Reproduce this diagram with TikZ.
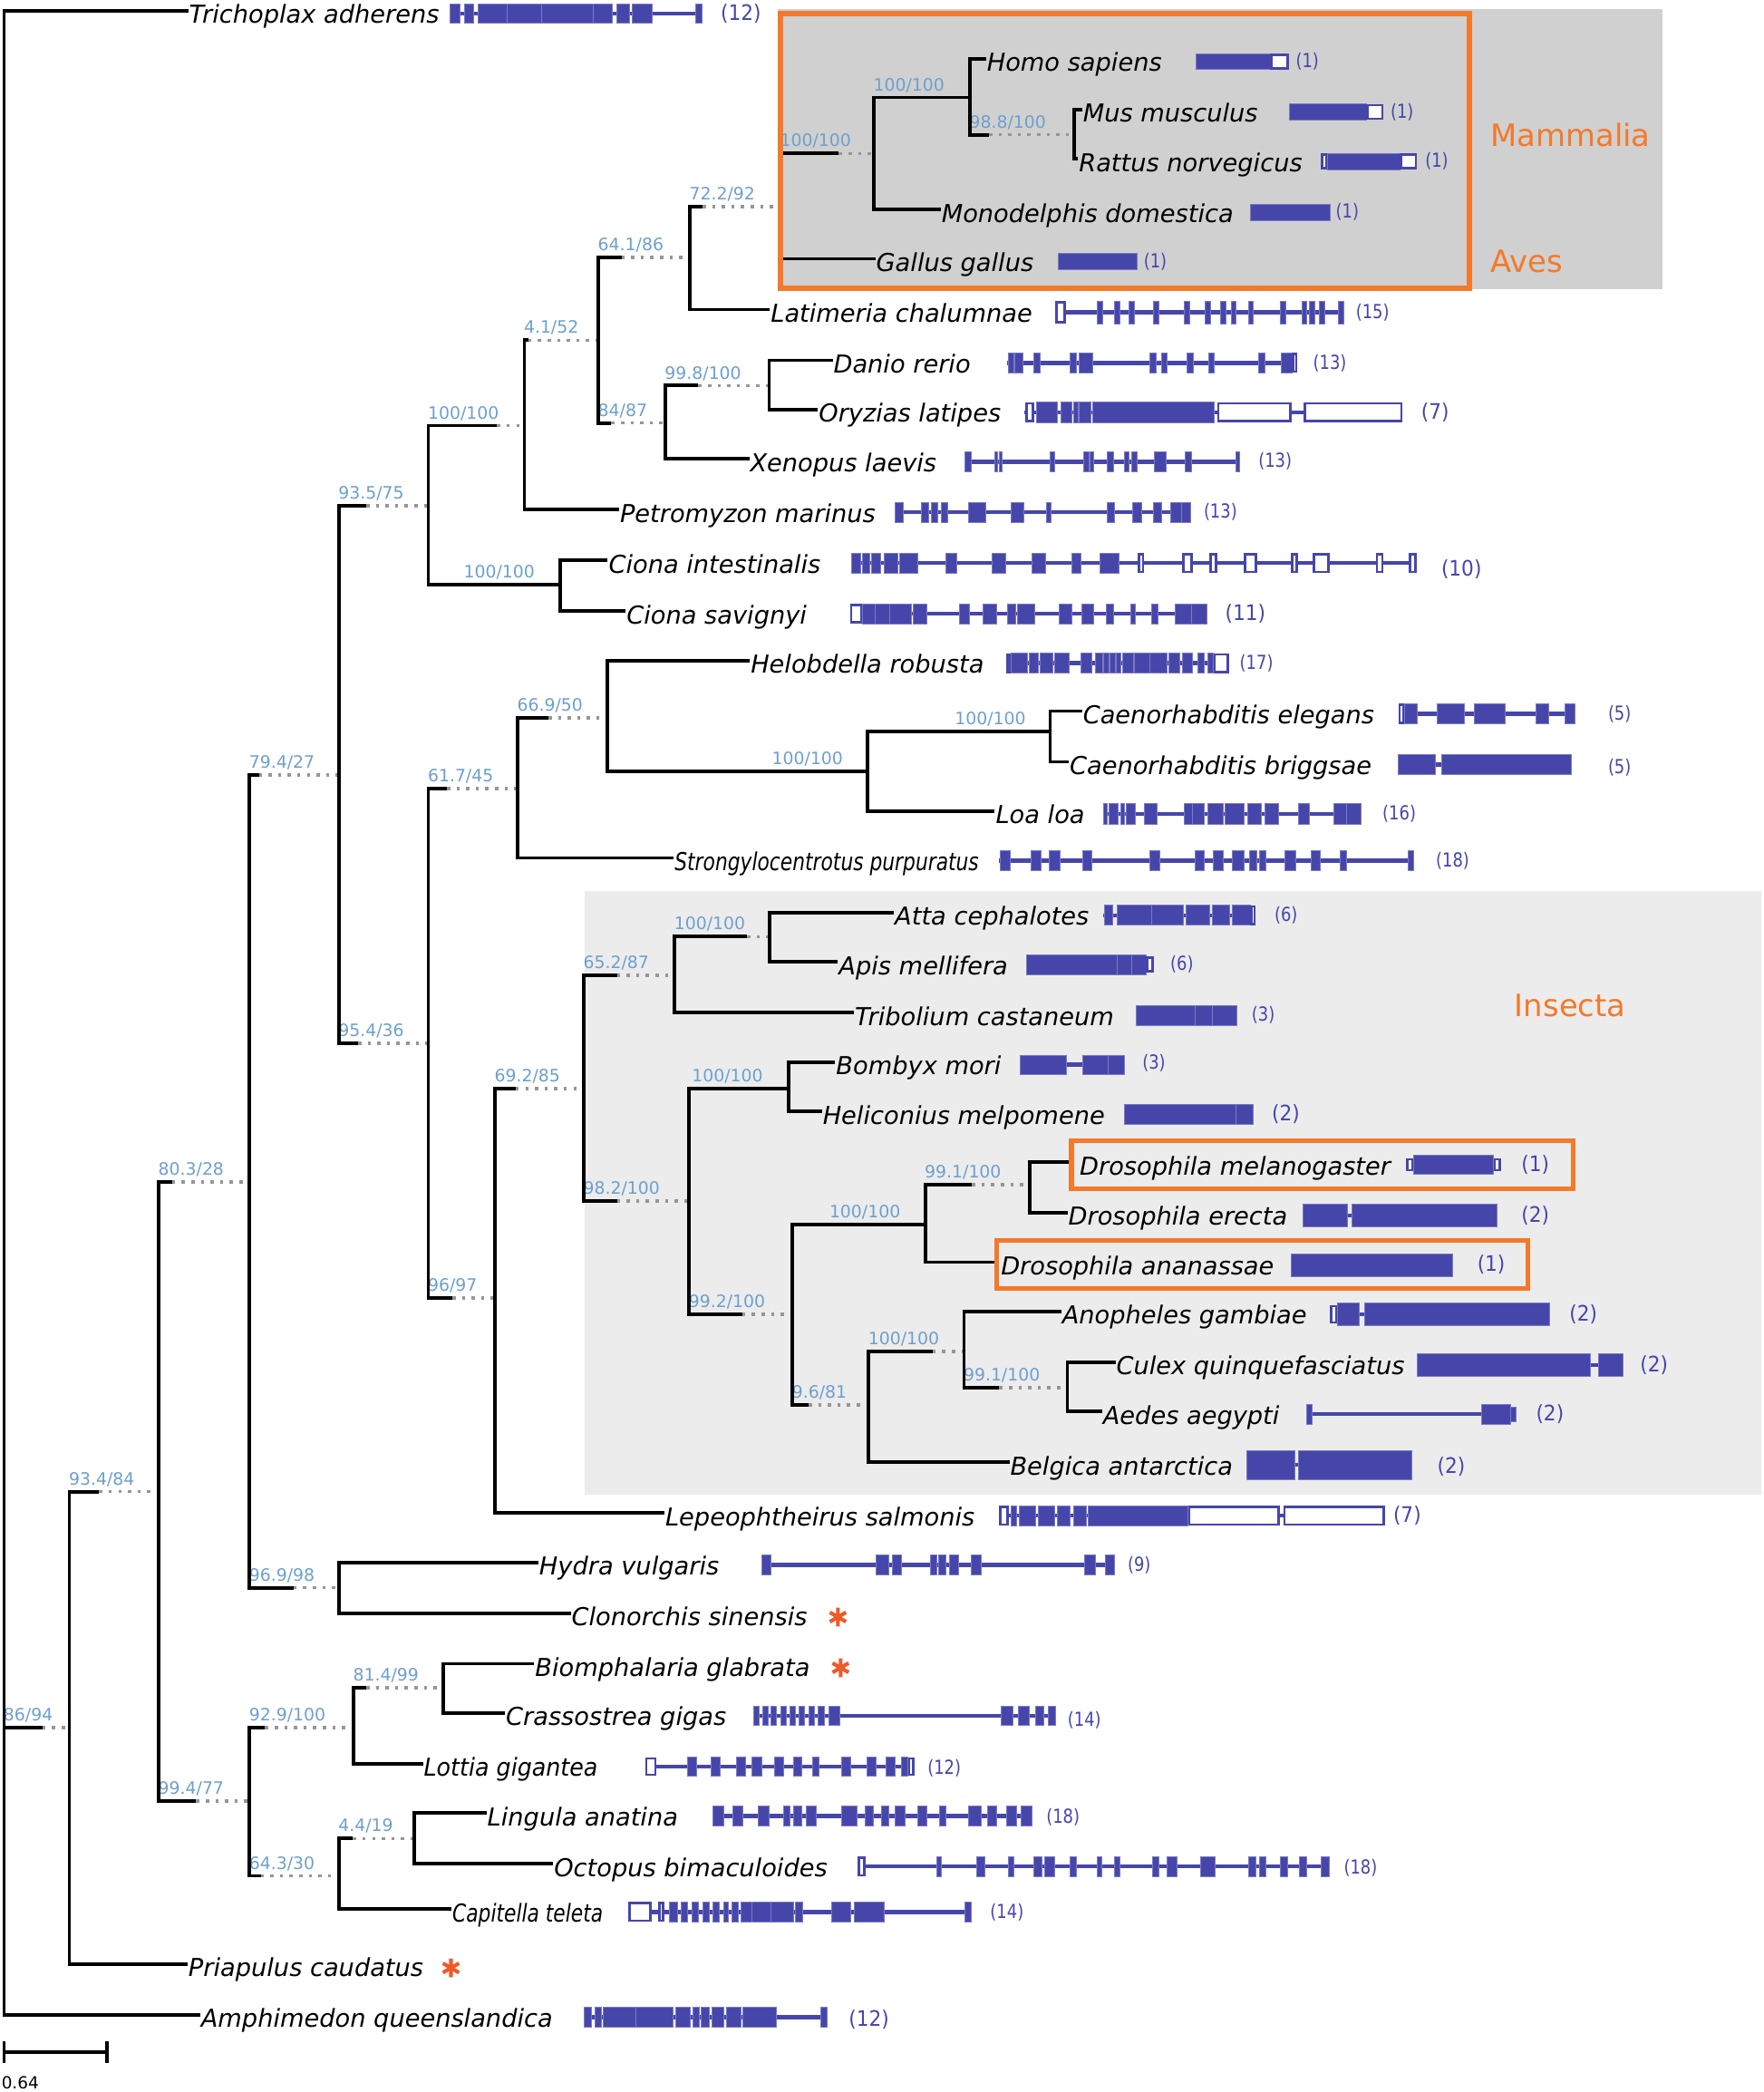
\documentclass[tikz,border=0pt]{standalone}
\usepackage{fontspec}
\usepackage{graphicx}
\setmainfont{DejaVu Sans}
\definecolor{genec}{RGB}{70,70,170}
\definecolor{supc}{RGB}{110,160,205}
\definecolor{orng}{RGB}{244,121,42}
\definecolor{dotc}{RGB}{150,150,150}
\definecolor{mgray}{RGB}{208,208,208}
\definecolor{igray}{RGB}{236,236,236}
\definecolor{astc}{RGB}{238,90,40}
\tikzset{
  hl/.style={line width=2.6pt,black,line cap=butt},
  vl/.style={line width=2.6pt,black,line cap=rect},
  dotb/.style={line width=2.4pt,dotc,dash pattern=on 2.4pt off 4.8pt},
  sup/.style={font=\fontsize{12.8}{14}\selectfont,text=supc,inner sep=0pt},
  tax/.style={font=\fontsize{18.5}{20}\selectfont\itshape,anchor=base west,inner sep=0pt},
  cntS/.style={font=\fontsize{14.5}{16}\selectfont,text=genec,anchor=west,inner sep=0pt},
  cntL/.style={font=\fontsize{16}{18}\selectfont,text=genec,anchor=west,inner sep=0pt},
  grp/.style={font=\fontsize{23}{25}\selectfont,text=orng,anchor=west,inner sep=0pt},
  intr/.style={line width=3pt,genec,line cap=butt},
  exf/.style={fill=genec,draw=genec!72!white,line width=0.5pt},
  exo/.style={fill=white,draw=genec,line width=1.8pt},
  obox/.style={draw=orng,line width=4pt},
}
% taxon: name, row, parent x, text x, text
\newcommand\taxon[5]{\draw[hl] (#3,#2-2) -- (#4,#2-2); \node[tax] (#1) at (#4+0.5,#2+7.5) {#5};}
% internal branch: parent x, solid end, child x, y
\newcommand\ib[4]{\draw[dotb] (#2,#4) -- (#3,#4); \draw[hl] (#1,#4) -- (#2,#4);}
\newcommand\labw[3]{\node[sup,anchor=base west] at (#1-0.5,#2-5) {#3};}
\newcommand\labe[3]{\node[sup,anchor=base east] at (#1,#2-5) {#3};}
\newcommand\gIn[3]{\draw[intr] (#2,#1) -- (#3,#1);}
\newcommand\gEx[3]{\foreach \a/\b in {#3}{\filldraw[exf] (\a,#1-#2) rectangle (\b,#1+#2);}}
\newcommand\gOp[3]{\foreach \a/\b in {#3}{\filldraw[exo] (\a+0.9,#1-#2+0.9) rectangle (\b-0.9,#1+#2-0.9);}}
\newcommand\cntS[3]{\node[cntS] at (#1,#2) {\scalebox{0.84}[1]{#3}};}
\newcommand\cntL[3]{\node[cntL] at (#1,#2) {\scalebox{0.92}[1]{#3}};}
\newcommand\astmark[2]{\draw[astc,line width=2.8pt] (#1,#2-7)--(#1,#2+7) (#1-6,#2-3.5)--(#1+6,#2+3.5) (#1-6,#2+3.5)--(#1+6,#2-3.5);}
\begin{document}
\begin{tikzpicture}[x=1pt,y=-1pt]
\useasboundingbox (0,0) rectangle (1322,1568);
\fill[white] (0,0) rectangle (1322,1568);
% backgrounds
\fill[mgray] (583,7) rectangle (1246,217);
\fill[igray] (438,668) rectangle (1320,1120);
% dotted + solid internal branches
\ib{3}{31.8}{52}{1295}
\ib{52}{74.3}{119}{1118}
\ib{119}{129}{187}{886}
\ib{119}{147}{187}{1350}
\ib{187}{194}{254}{581}
\ib{187}{220}{254}{1190}
\ib{254}{274.5}{321}{379}
\ib{254}{268.4}{321}{782}
\ib{321}{372.5}{393}{319}
\ib{321}{420}{420}{438}
\ib{393}{396}{448.5}{255}
\ib{448.5}{465.8}{517}{193}
\ib{448.5}{458.2}{498.6}{317}
\ib{517}{526.5}{585}{155}
\ib{585}{628.7}{655}{115}
\ib{655}{727}{727}{73}
\ib{727}{741.2}{805}{101}
\ib{498.6}{523.4}{576.5}{289}
\ib{321}{335}{388}{591}
\ib{388}{411}{455}{538}
\ib{455}{650}{650}{578}
\ib{650}{787}{787}{548}
\ib{321}{339}{371}{973}
\ib{371}{386.5}{437.6}{816}
\ib{437.6}{462.4}{505.7}{731}
\ib{505.7}{559.8}{577}{702}
\ib{437.6}{462.4}{516.5}{900}
\ib{516.5}{591}{591}{816}
\ib{516.5}{556.3}{594}{985}
\ib{594}{693.4}{693.4}{918}
\ib{693.4}{728.4}{772}{888}
\ib{594}{606}{651}{1053}
\ib{651}{699}{722.5}{1013}
\ib{722.5}{749}{800}{1040}
\ib{187}{198.7}{265}{1295}
\ib{265}{274.5}{332}{1265}
\ib{187}{195.4}{254}{1406}
\ib{254}{264.5}{310.7}{1378}
% support labels
\labw{3}{1295}{86/94}
\labw{52}{1118}{93.4/84}
\labw{119}{886}{80.3/28}
\labw{119}{1350}{99.4/77}
\labw{187}{581}{79.4/27}
\labw{187}{1190}{96.9/98}
\labw{254}{379}{93.5/75}
\labw{254}{782}{95.4/36}
\labw{321}{319}{100/100}
\labe{401}{438}{100/100}
\labw{393}{255}{4.1/52}
\labw{448.5}{193}{64.1/86}
\labw{448.5}{317}{84/87}
\labw{517}{155}{72.2/92}
\labw{585}{115}{100/100}
\labe{708}{73}{100/100}
\labw{727}{101}{98.8/100}
\labw{498.6}{289}{99.8/100}
\labw{321}{591}{61.7/45}
\labw{388}{538}{66.9/50}
\labe{632}{578}{100/100}
\labe{769}{548}{100/100}
\labw{321}{973}{96/97}
\labw{371}{816}{69.2/85}
\labw{437.6}{731}{65.2/87}
\labw{505.7}{702}{100/100}
\labw{437.6}{900}{98.2/100}
\labe{572}{816}{100/100}
\labw{516.5}{985}{99.2/100}
\labe{675}{918}{100/100}
\labw{693.4}{888}{99.1/100}
\labw{594}{1053}{9.6/81}
\labw{651}{1013}{100/100}
\labw{722.5}{1040}{99.1/100}
\labw{187}{1295}{92.9/100}
\labw{265}{1265}{81.4/99}
\labw{187}{1406}{64.3/30}
\labw{254}{1378}{4.4/19}
% verticals
\draw[vl] (3,8) -- (3,1510);
\draw[vl] (52,1118) -- (52,1472);
\draw[vl] (119,886) -- (119,1350);
\draw[vl] (187,581) -- (187,1190);
\draw[vl] (254,379) -- (254,782);
\draw[vl] (321,319) -- (321,438);
\draw[vl] (393,255) -- (393,382);
\draw[vl] (448.5,193) -- (448.5,317);
\draw[vl] (517,155) -- (517,232);
\draw[vl] (585,115) -- (585,194);
\draw[vl] (655,73) -- (655,157);
\draw[vl] (727,44) -- (727,101);
\draw[vl] (805,82) -- (805,119);
\draw[vl] (498.6,289) -- (498.6,344);
\draw[vl] (576.5,270) -- (576.5,307);
\draw[vl] (420,420) -- (420,458);
\draw[vl] (321,591) -- (321,973);
\draw[vl] (388,538) -- (388,643);
\draw[vl] (455,495) -- (455,578);
\draw[vl] (650,548) -- (650,608);
\draw[vl] (787,533) -- (787,571);
\draw[vl] (371,816) -- (371,1134);
\draw[vl] (437.6,731) -- (437.6,900);
\draw[vl] (505.7,702) -- (505.7,759);
\draw[vl] (577,684) -- (577,721);
\draw[vl] (516.5,816) -- (516.5,985);
\draw[vl] (591,796) -- (591,833);
\draw[vl] (594,918) -- (594,1053);
\draw[vl] (693.4,888) -- (693.4,946);
\draw[vl] (772,871) -- (772,909);
\draw[vl] (651,1013) -- (651,1096);
\draw[vl] (722.5,983) -- (722.5,1040);
\draw[vl] (800,1021) -- (800,1058);
\draw[vl] (254,1171) -- (254,1209);
\draw[vl] (187,1295) -- (187,1406);
\draw[vl] (265,1265) -- (265,1322);
\draw[vl] (332,1247) -- (332,1284);
\draw[vl] (254,1378) -- (254,1431);
\draw[vl] (310.7,1359) -- (310.7,1397);
% taxa
\taxon{tri}{10}{3}{141}{Trichoplax adherens}
\taxon{homo}{46}{727}{739}{Homo sapiens}
\taxon{mus}{84}{805}{811}{Mus musculus}
\taxon{rat}{121}{805}{808}{Rattus norvegicus}
\taxon{mono}{159}{655}{705}{Monodelphis domestica}
\taxon{gal}{196}{585}{656}{Gallus gallus}
\taxon{lat}{234}{517}{577}{Latimeria chalumnae}
\taxon{dan}{272}{576.5}{624}{Danio rerio}
\taxon{ory}{309}{576.5}{613}{Oryzias latipes}
\taxon{xen}{346}{498.6}{561.5}{Xenopus laevis}
\taxon{pet}{384}{393}{464}{Petromyzon marinus}
\taxon{cin}{422}{420}{455.5}{Ciona intestinalis}
\taxon{csa}{460}{420}{469}{Ciona savignyi}
\taxon{hel}{497}{455}{562}{Helobdella robusta}
\taxon{cel}{535}{787}{811}{Caenorhabditis elegans}
\taxon{cbr}{573}{787}{801}{Caenorhabditis briggsae}
\taxon{loa}{610}{650}{745.6}{Loa loa}
\taxon{str}{645}{388}{505}{\scalebox{0.8}[1]{Strongylocentrotus purpuratus}}
\taxon{atta}{686}{577}{670}{Atta cephalotes}
\taxon{apis}{723}{577}{628}{Apis mellifera}
\taxon{trib}{761}{505.7}{640}{Tribolium castaneum}
\taxon{bom}{798}{591}{626}{Bombyx mori}
\taxon{hmel}{835}{591}{616}{Heliconius melpomene}
\draw[hl] (772,871) -- (801,871); \node[tax] (dmel) at (809,880.5) {Drosophila melanogaster};
\taxon{dere}{911}{772}{800}{Drosophila erecta}
\draw[hl] (693.4,946) -- (746,946); \node[tax] (dana) at (750,955.5) {Drosophila ananassae};
\taxon{ano}{985}{722.5}{795.4}{Anopheles gambiae}
\taxon{cul}{1023}{800}{836}{Culex quinquefasciatus}
\taxon{aed}{1060}{800}{826}{Aedes aegypti}
\taxon{bel}{1098}{651}{756.5}{Belgica antarctica}
\taxon{lep}{1136}{371}{498}{Lepeophtheirus salmonis}
\taxon{hyd}{1173}{254}{403.5}{Hydra vulgaris}
\taxon{clo}{1211}{254}{427.7}{Clonorchis sinensis}
\taxon{bio}{1249}{332}{400.4}{Biomphalaria glabrata}
\taxon{cra}{1286}{332}{378.5}{Crassostrea gigas}
\taxon{lot}{1324}{265}{317}{\scalebox{0.93}[1]{Lottia gigantea}}
\taxon{lin}{1361}{310.7}{364.6}{Lingula anatina}
\taxon{oct}{1399}{310.7}{414.6}{Octopus bimaculoides}
\taxon{cap}{1433}{254}{338.4}{\scalebox{0.8}[1]{Capitella teleta}}
\taxon{pri}{1474}{52}{140.6}{Priapulus caudatus}
\taxon{amp}{1512}{3}{150}{Amphimedon queenslandica}
% genes
\gIn{10}{337}{526}
\gEx{10}{7}{337/345,348/355,358/380,380/405.6,405.6/444.5,444.5/459,462/472,474/489,521/526}
\gEx{46}{6}{896/952} \gOp{46}{6}{952/966}
\gEx{84}{6}{966/1024} \gOp{84}{6}{1024/1037}
\gOp{121}{6}{990/995} \gEx{121}{6}{995/1049} \gOp{121}{6}{1049/1062}
\gEx{159}{6}{937/997}
\gEx{196}{6}{793/852}
\gIn{234}{791}{1007}
\gOp{234}{8.5}{791/799}
\gEx{234}{8.5}{822/826.4,835.5/839.4,846/849.8,864.6/868.8,887.5/891.4,903/907,914.8/918.7,922.6/926.5,935.6/939,959.8/963.4,975.9/979,981/985,988.9/992.8,1003.2/1007.1}
\gIn{272}{755}{972}
\gEx{272}{7.5}{755.4/760.1,760.6/766.6,774.4/779.6,801.7/806.9,809/818.6,862/866.7,870.6/874.5,889.6/894.5,905.7/910.1,942.9/948.1,960.3/968.1}
\gOp{272}{7.5}{968.1/972.5}
\gIn{309}{768}{1051}
\gOp{309}{7.5}{768.4/775,912.2/968.1,977.2/1051.3}
\gEx{309}{7.5}{777/792.6,795.2/803,804.3/808.2,809/817.3,818.6/909.6}
\gIn{346}{723}{929}
\gEx{346}{7.5}{722.9/727.6,745.5/747.5,749/751,786.9/790.5,812.1/816,816.8/819.9,829.5/834.2,842.5/846.4,848/852.4,865.4/873.7,888.3/892.7,926.5/929.1}
\gIn{384}{671}{892}
\gEx{384}{7.5}{670.6/676.6,690.3/695.7,697.8/702.4,705.4/710,725.8/738.8,757.5/767.4,784/787.4,829.8/835.5,849/855.8,864.1/870.6,877.6/885.4,885.4/892.2}
\gIn{422}{638}{1062}
\gEx{422}{7.5}{638.4/645,646/652,653/660.1,662.5/673,674/687.8,708.6/717,743.3/753.9,773.3/783.4,803.3/810.2,824.1/838.9}
\gOp{422}{7.5}{852.9/857.6,886.2/894,906.2/912.2,932.2/942.1,967.6/972.8,983.7/996.7,1031/1037,1056/1061.7}
\gIn{460}{637}{904.4}
\gOp{460}{7.5}{637/646.3}
\gEx{460}{7.5}{646.3/655.5,655.5/667,667/683,684.6/694.8,718.8/726.2,736.7/747.1,754.9/761.4,762.7/775.7,793.9/803,810.8/819.9,829/834.2,847.2/851.1,862.8/868,881/892.7,892.7/904.4}
\gIn{497}{754}{921}
\gOp{497}{7.5}{754/757.5,909.5/921}
\gEx{497}{7.5}{757.5/770,771/778,779.5/789,790.5/801,810.2/818.5,820.8/826.4,827.3/831,832/835.6,836.5/840,841/849.5,850/862,862/874.9,876/884.1,886.4/893.4,898/902.6,904.9/909.5}
\gIn{535}{1048}{1180.6}
\gOp{535}{7.5}{1048/1052.7}
\gEx{535}{7.5}{1052.7/1061.9,1077.2/1097.5,1104.9/1128,1151/1160.3,1172.8/1180.6}
\gIn{573}{1048}{1177.4}
\gEx{573}{7.5}{1048/1075.8,1080.4/1177.4}
\gIn{610}{827}{1020.3}
\gEx{610}{7.5}{827.3/830,831/838,840.2/843,844/850.9,857.8/867,887.8/893.4,893.4/902.6,904.9/916.4,917.8/932.6,934.9/945.1,947.8/958,972.8/981.1,999.6/1008.8,1008.8/1020.3}
\gIn{645}{749}{1059.6}
\gEx{645}{7.5}{749.3/757.1,772.4/780.2,786.2/794.1,811.6/818.5,862/868.9,895.7/902.6,909.5/916.4,923.4/932.6,936.3/941.8,944.1/948.8,962.6/970.9,982.5/989.4,1004.2/1008.8,1055/1059.6}
\gIn{686}{827}{941}
\gEx{686}{7.5}{827.6/834.1,837.2/863.2,863.2/887,889.2/906.5,908.7/921.7,923.8/936.8}
\gOp{686}{7.5}{936.8/941.2}
\gEx{723}{7.5}{769.1/837.2,837.2/848,848/858.8} \gOp{723}{6}{858.8/864.5}
\gEx{761}{7.5}{851.4/895.6,895.6/908.7,908.7/926.8}
\gIn{798}{764.8}{842.8}
\gEx{798}{7}{764.8/799.5,811.2/830.7,830.7/842.8}
\gEx{835}{7.5}{842.8/926,926/939}
\gOp{873}{5}{1053.8/1059.6,1119.1/1125} \gEx{873}{7}{1059.6/1119.1}
\gIn{911}{976}{1122} \gEx{911}{8.5}{976.2/1010,1013/1122}
\gEx{948}{8.5}{967.5/1088.8}
\gIn{985}{996.6}{1161} \gOp{985}{7}{996.6/1002.5} \gEx{985}{8.5}{1002.5/1018.8,1022.9/1161}
\gIn{1023}{1062}{1216.5} \gEx{1023}{8.5}{1062/1192,1198/1216.5}
\gIn{1060}{979}{1132} \gEx{1060}{7.5}{979.1/983.5,1110.4/1132} \gEx{1060}{5.5}{1132/1136}
\gIn{1098}{934}{1058} \gEx{1098}{11}{934.2/970.4,973.3/1057.9}
\gIn{1136}{748.6}{1038}
\gOp{1136}{7.5}{748.6/755.8,890.2/959.3,961.7/1038}
\gEx{1136}{7.5}{757.5/762,763.9/775.8,778.2/790.1,792.5/802,804.4/813.9,815.3/890.2}
\gIn{1173}{571}{835.4}
\gEx{1173}{7.5}{570.9/578,656.6/666.2,668.6/675.7,697.2/702,703.4/709.1,711.5/718.6,728.1/735.3,813/821.1,828.2/835.4}
\gIn{1286}{565}{791}
\gEx{1286}{7}{565/569,571.5/575.5,578/582,585/589,592/596,599/603,606/610,613/618,621/629.5,750.5/759.1,762.9/771,775.8/782,785.3/791}
\gIn{1324}{483.6}{685.2}
\gOp{1324}{7}{483.6/492.2,680.5/685.2}
\gEx{1324}{7}{515.1/522.2,532.7/539.9,551.8/558.9,563.7/570.9,580.4/587.5,594.7/600.9,609/613.7,630.4/637.6,649.5/656.6,663.8/671,675.7/680.5}
\gIn{1361}{534.2}{773.4}
\gEx{1361}{7.5}{534.2/542.3,549.4/556.6,568.5/576.6,587.5/592.3,594.7/600.9,604.2/611.4,630.4/642.3,648.5/654.3,660.5/666.2,671/678.1,687.6/694.8,704.3/709.1,725.8/735.3,740.1/747.2,754.3/761.5,765.3/773.4}
\gIn{1399}{642.8}{996.5}
\gOp{1399}{7.5}{642.8/648.5}
\gEx{1399}{7.5}{702/705.7,732/738.2,755.8/760.1,774.4/780.6,783/790.1,802/806.8,822/825.8,835.4/839.2,864/868.7,874.4/882.1,899.7/910.7,935.5/941.2,944/948.8,959.3/965,973.6/979.3,990.3/996.5}
\gIn{1433}{470.8}{728.1}
\gOp{1433}{7.5}{470.8/488.4,493.2/498}
\gEx{1433}{7.5}{501.7/507.5,510.3/515.1,518.4/523.2,526.5/531.3,534.2/538.9,542.3/545.6,548.4/553.2,555.1/563.7,563.7/578,578/594.7,596.1/601.8,623.3/637.6,640/662.8,723.4/728.1}
\gIn{1512}{437.5}{619.6}
\gEx{1512}{7.5}{437.5/443.2,445.6/450.4,451.8/476.6,476.6/504.2,506.1/517.1,519.5/524.3,525.7/531.4,533.8/542.4,544.3/555.2,556.7/581.5,614.8/619.6}
% counts
\cntL{540}{10}{(12)}
\cntS{971}{46}{(1)}
\cntS{1042}{84}{(1)}
\cntS{1068}{121}{(1)}
\cntS{1001}{159}{(1)}
\cntS{857}{196}{(1)}
\cntS{1016}{234}{(15)}
\cntS{984}{272}{(13)}
\cntL{1065}{309}{(7)}
\cntS{943}{346}{(13)}
\cntS{902}{384}{(13)}
\cntL{1080}{427}{(10)}
\cntL{918}{460}{(11)}
\cntS{929}{497}{(17)}
\cntS{1205}{535}{(5)}
\cntS{1205}{575}{(5)}
\cntS{1036}{610}{(16)}
\cntS{1076}{645}{(18)}
\cntS{955}{686}{(6)}
\cntS{877}{723}{(6)}
\cntS{938}{761}{(3)}
\cntS{856}{797}{(3)}
\cntL{953}{835}{(2)}
\cntL{1140}{873}{(1)}
\cntL{1140}{911}{(2)}
\cntL{1107}{948}{(1)}
\cntL{1176}{985}{(2)}
\cntL{1229}{1023}{(2)}
\cntL{1151}{1060}{(2)}
\cntL{1077}{1099}{(2)}
\cntL{1044}{1136}{(7)}
\cntS{845}{1173}{(9)}
\cntS{800}{1289}{(14)}
\cntS{695}{1325}{(12)}
\cntS{784}{1362}{(18)}
\cntS{1007}{1400}{(18)}
\cntS{742}{1433}{(14)}
\cntL{636}{1514}{(12)}
% asterisks
\astmark{628}{1212}
\astmark{630}{1250}
\astmark{338}{1475}
% orange boxes
\draw[obox] (585,10) rectangle (1101,216);
\draw[orng,line width=3.5pt] (803,855) rectangle (1179,891);
\draw[orng,line width=3.5pt] (747,930) rectangle (1145,966);
% group labels
\node[grp] (mam) at (1117,101) {Mammalia};
\node[grp] (ave) at (1117,196) {Aves};
\node[grp] (ins) at (1135,754) {Insecta};
% scale bar
\draw[hl] (3,1538) -- (80,1538);
\draw[hl] (3,1530) -- (3,1546);
\draw[hl] (80,1530) -- (80,1546);
\node[font=\fontsize{12.5}{14}\selectfont,anchor=west,inner sep=0pt] (sc) at (1,1561) {0.64};
\end{tikzpicture}
\end{document}
